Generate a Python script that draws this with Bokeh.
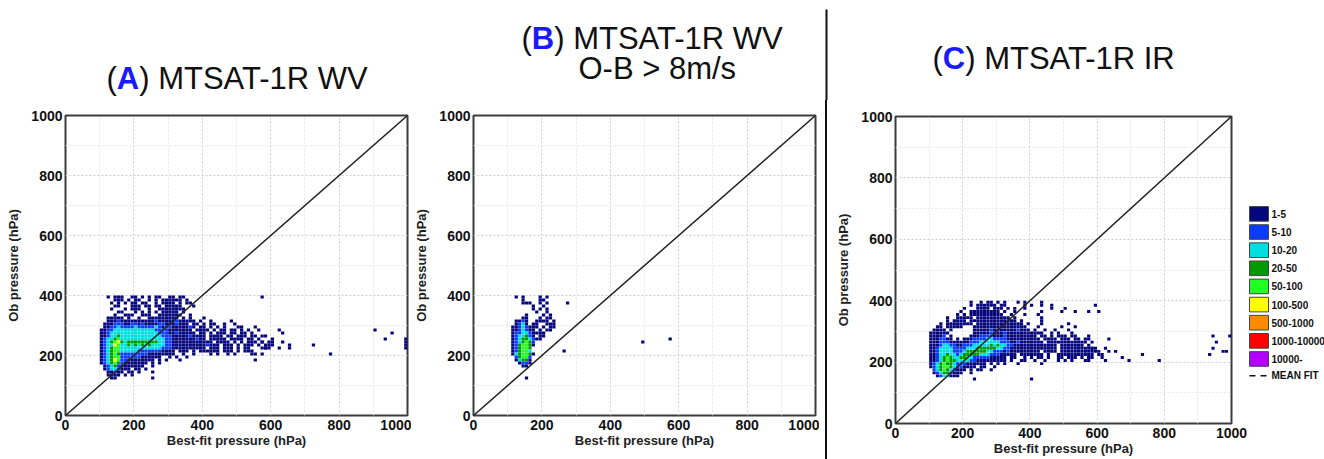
from bokeh.plotting import figure
from bokeh.models import Range1d, FixedTicker, ColumnDataSource, Spacer
from bokeh.layouts import column, row
from bokeh.core.properties import value
from bokeh.embed import file_html
from bokeh.resources import INLINE

FONT = "Liberation Sans"

# ---------------- data ----------------
count_classes = ["1-5", "5-10", "10-20", "20-50", "50-100", "100-500",
                 "500-1000", "1000-10000", "10000-"]
class_colors = ["#06067c", "#0a3cff", "#00dede", "#009a00", "#22ff22",
                "#ffff00", "#ff8a00", "#ff0000", "#b400ff"]
bin_size = 10
axis_ticks = [0, 200, 400, 600, 800, 1000]
minor_ticks = [100, 300, 500, 700, 900]
one_to_one = [0, 1000]

# Panel A: MTSAT-1R WV  (rows of 10-hPa bins; char = count class, '.' = empty)
A_x0 = 100
A_row_y = [390, 380, 370, 360, 350, 340, 330, 320, 310, 300, 290, 280, 270, 260,
           250, 240, 230, 220, 210, 200, 190, 180, 170, 160, 150, 140, 130, 120]
A_rows = [
    "..1.111..11.1.1.11..11.11",
    "....111.1.11..1.1.111111.1",
    "...1.1.1.11.11..1.1111.1.11",
    "....11...111.11.11.11111...1",
    "...1...1.111..1..11111111",
    ".....11...1.1.1.1.11111.1",
    "....1..111..111..1111111..1",
    "..11111.1..1..111111111.1.1...1",
    "..11121111111111211111211111.1..1.....1",
    ".1112221122121111221112111.11.1.11..1..1",
    ".112232222322222321221111121.11.1.1.1...11...1",
    "112233333333333322221111111.1111.1.11.11.1.1..1",
    "1123333333333333322211211111.11.1.111.11.11.1",
    "1123343333333333332221111121111.1111.11.111.11..1",
    "1233453333333333333221111111211.11111.1111.11.1...1",
    "123456434444444443322111111111111.1111.1.1.111.1.11",
    "12336533434343433332211111111112111.111.1.111.1.111",
    "1234553333333333332221111111111.111.111.1.11...11",
    "1234553333322222221111.111.1.111111.111.1.111",
    "1234542222222211111111..1..1....1.1..1.1....11.1",
    "123455222222111111..1.1..1",
    "1234652211111111.1.1...1",
    "12345421111111.1.1",
    ".123421111111..1",
    ".12332111.11.1",
    "..11211.11.1...1",
    "..1111.1.1",
    "...11..........1",
]
A_out_x = [570, 570, 570, 580, 590, 550, 620, 630, 630, 620, 650, 650, 720, 770,
           900, 930, 950, 990, 990, 990, 990]
A_out_y = [390, 260, 240, 220, 220, 180, 280, 270, 240, 220, 230, 220, 230, 200,
           280, 250, 270, 250, 240, 230, 220]

# Panel B: MTSAT-1R WV, O-B > 8 m/s
B_x0 = 110
B_row_y = [390, 380, 370, 360, 350, 340, 330, 320, 310, 300, 290, 280, 270, 260,
           250, 240, 230, 220, 210, 200, 190, 180, 170, 160]
B_rows = [
    ".1.1....1.1",
    "...1....11",
    "...111..1.1",
    "......1..1",
    "......1.1.1",
    ".......1..1",
    "....1....1.1",
    "...11...1.11",
    ".1121..1111.1",
    ".1231.11..111",
    "11232111.1.11",
    "1123211.1.11",
    "1223321111",
    "1233421.11",
    "123443211",
    "1234542",
    "1245541",
    "124554",
    "124553",
    "1345541",
    ".24552",
    ".13441",
    "..1221",
    "...11",
]
B_out_x = [270, 260, 490, 570, 150]
B_out_y = [370, 210, 240, 250, 120]

# Panel C: MTSAT-1R IR
C_x0 = 100
C_row_y = [390, 380, 370, 360, 350, 340, 330, 320, 310, 300, 290, 280, 270, 260,
           250, 240, 230, 220, 210, 200, 190, 180, 170, 160, 150]
C_rows = [
    "............1..1.11.1.1...1.1....1",
    "............1.111111.11.....1.1..1..1",
    "..........1...1111.111.1.1..1.......1...1",
    ".........1..111111111.1..1.......1.....1...1",
    "........1.1.1111111111..1...1...1",
    ".....1..11111.1111111111.1.......1",
    ".....1.1111.11111111111111.1.....1",
    "...1.11111111.11111111111111.1...1.......1",
    "..11.11111...1111111111111111...1......1...1",
    ".1111.1......11111211111112111.1..1..1...1",
    "111111.......111112111211111111111..1.1...1",
    "11112.1.....11122221112111111111.11.1.111.11...1",
    "1112211.1.11122223322221111111111.1111.111.11.11",
    "1112221111112223333332221121111111.111111111111.1",
    "11123322112223333343433221111111111111.1111111.1",
    "11233332222333444444332211111111111111.11111111.11",
    "112333322234444443322212111111111.1111.11111111111",
    "11233433234444433322211111.1111111.1..11111111111.1",
    "11234543344332222211111.11..1.1.11.1..11.111.1.11",
    "11234544333322111111111.1..11..1..1...1.1.1...11",
    "12345443222111111.1.1.1...1......1",
    "12345543221111.11..1",
    ".2345432111.1.11..1",
    ".123442111..1",
    "..1233111",
]
C_out_x = [590, 570, 600, 630, 570, 580, 570, 600, 610, 610, 620, 630, 620, 650,
           670, 690, 730, 780, 930, 940, 950, 940, 970, 980, 990, 230, 400]
C_out_y = [380, 360, 360, 270, 240, 240, 210, 230, 220, 210, 240, 230, 200, 230,
           210, 200, 220, 200, 220, 240, 260, 280, 230, 230, 280, 140, 140]


def grid_cells(row_y, rows, x0, out_x, out_y):
    xs, ys, cols = [], [], []
    for yb, s in zip(row_y, rows):
        for i, ch in enumerate(s):
            if ch != ".":
                xs.append(x0 + bin_size * i + bin_size / 2)
                ys.append(yb + bin_size / 2)
                cols.append(class_colors[int(ch) - 1])
    for xb, yb in zip(out_x, out_y):
        xs.append(xb + bin_size / 2)
        ys.append(yb + bin_size / 2)
        cols.append(class_colors[0])
    return ColumnDataSource(dict(x=xs, y=ys, color=cols))


def make_panel(src, width, height, bl, br, bt, bb):
    p = figure(width=width, height=height,
               x_range=Range1d(0, 1000), y_range=Range1d(0, 1000),
               output_backend="svg", toolbar_location=None,
               min_border_left=bl, min_border_right=br,
               min_border_top=bt, min_border_bottom=bb,
               x_axis_label="Best-fit pressure (hPa)",
               y_axis_label="Ob pressure (hPa)")
    p.background_fill_color = "white"
    p.border_fill_color = "white"
    p.outline_line_color = "#3c3c3c"
    p.outline_line_width = 2
    ticker = FixedTicker(ticks=axis_ticks, minor_ticks=minor_ticks)
    for ax in (p.xaxis[0], p.yaxis[0]):
        ax.ticker = ticker
        ax.major_label_text_font = FONT
        ax.major_label_text_font_size = "14px"
        ax.major_label_text_font_style = "bold"
        ax.major_label_text_color = "#111111"
        ax.axis_label_text_font = FONT
        ax.axis_label_text_font_size = "13px"
        ax.axis_label_text_font_style = "bold"
        ax.axis_label_text_color = "#222222"
        ax.axis_line_color = None
        ax.major_tick_line_color = None
        ax.minor_tick_line_color = None
        ax.major_tick_out = 0
        ax.major_tick_in = 0
        ax.minor_tick_out = 0
        ax.minor_tick_in = 0
    p.yaxis.major_label_standoff = 3
    p.yaxis.axis_label_standoff = 7
    p.xaxis.major_label_standoff = 4
    p.xaxis.axis_label_standoff = 0
    for g in (p.xgrid[0], p.ygrid[0]):
        g.ticker = ticker
        g.grid_line_color = "#cfcfcf"
        g.grid_line_dash = "2 2"
        g.grid_line_width = 1
        g.minor_grid_line_color = "#e4e4e4"
        g.minor_grid_line_dash = "2 2"
    p.rect("x", "y", width=bin_size * 0.95, height=bin_size * 0.95, source=src,
           fill_color="color", line_color=None)
    p.line(one_to_one, one_to_one, line_color="#222222", line_width=1.5)
    return p


srcA = grid_cells(A_row_y, A_rows, A_x0, A_out_x, A_out_y)
srcB = grid_cells(B_row_y, B_rows, B_x0, B_out_x, B_out_y)
srcC = grid_cells(C_row_y, C_rows, C_x0, C_out_x, C_out_y)

pA = make_panel(srcA, 411, 359, 65, 4, 15, 42)
pB = make_panel(srcB, 408, 359, 61, 4, 14, 44)
pC = make_panel(srcC, 414, 359, 61, 16, 16, 36)

# legend of panel C, drawn in its own strip (coordinates = page pixels)
LG_X0, LG_W = 1247, 77
lg = figure(width=LG_W, height=359, x_range=Range1d(LG_X0, LG_X0 + LG_W),
            y_range=Range1d(459, 100), x_axis_type=None, y_axis_type=None,
            min_border=0, outline_line_color=None, toolbar_location=None,
            output_backend="svg")
pitch, box_top0, box_h = 21.7, 209.0, 17.5
tops = [box_top0 + pitch * i for i in range(len(count_classes))]
lg.quad(left=[LG_X0 + 2] * len(tops), right=[LG_X0 + 21] * len(tops),
        top=tops, bottom=[t + box_h for t in tops], fill_color=class_colors,
        line_color="#444444", line_width=1)
lg.text(x=[LG_X0 + 24] * len(tops), y=[t + box_h / 2 for t in tops], text=count_classes,
        text_font=value(FONT), text_font_size="10px", text_font_style="bold",
        text_color="#111111", text_baseline="middle", text_align="left")
mf_y = box_top0 + pitch * len(count_classes) + 7
lg.line([LG_X0 + 2, LG_X0 + 19], [mf_y, mf_y], line_color="#111111", line_width=1.5,
        line_dash="6 5")
lg.text(x=[LG_X0 + 24], y=[mf_y], text=["MEAN FIT"], text_font=value(FONT),
        text_font_size="10px", text_font_style="bold", text_color="#111111",
        text_baseline="middle", text_align="left")

# separator between B and C
sep = row(Spacer(width=6, height=359),
          Spacer(width=2, height=359, styles={"background-color": "#111111"}),
          Spacer(width=6, height=359), spacing=0)

# header with titles
hdr = figure(width=1324, height=100, x_range=Range1d(0, 1324), y_range=Range1d(100, 0),
             x_axis_type=None, y_axis_type=None, min_border=0,
             outline_line_color=None, toolbar_location=None, output_backend="svg")
hdr.line([826, 826], [9, 100], line_color="#111111", line_width=2)

FS = 31
titles = [  # (left x, y, letter, rest)
    (106, 78, "A", ") MTSAT-1R WV"),
    (521, 38, "B", ") MTSAT-1R WV"),
    (932, 58, "C", ") MTSAT-1R IR"),
]
for x, y, letter, rest in titles:
    hdr.text(x=[x], y=[y], text=["("], text_font=value(FONT), text_font_size=f"{FS}px",
             text_color="#111111", text_baseline="middle", text_align="left")
    x1 = x + 0.333 * FS
    hdr.text(x=[x1], y=[y], text=[letter], text_font=value(FONT), text_font_size=f"{FS}px",
             text_font_style="bold", text_color="#1a1aff", text_baseline="middle",
             text_align="left")
    x2 = x1 + 0.722 * FS
    hdr.text(x=[x2], y=[y], text=[rest], text_font=value(FONT), text_font_size=f"{FS}px",
             text_color="#111111", text_baseline="middle", text_align="left")
hdr.text(x=[578], y=[68], text=["O-B > 8m/s"], text_font=value(FONT),
         text_font_size=f"{FS}px", text_color="#111111", text_baseline="middle",
         text_align="left")

layout = column(hdr, row(pA, pB, sep, column(pC), lg, spacing=0), spacing=0)
open("out.html", "w").write(file_html(layout, INLINE))
